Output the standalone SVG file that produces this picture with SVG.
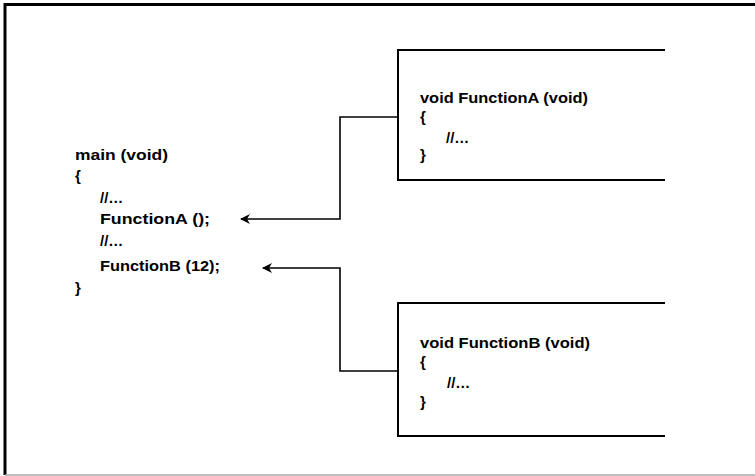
<svg xmlns="http://www.w3.org/2000/svg" width="755" height="476" viewBox="0 0 755 476">
<style>
  .t { font-family: "Liberation Sans", Arial, sans-serif; font-weight: bold; font-size: 15px; fill: #000; }
  .box { fill: none; stroke: #000; stroke-width: 2; }
  .conn { fill: none; stroke: #000; stroke-width: 1.6; }
</style>
<defs>
  <marker id="arr" markerWidth="10" markerHeight="10" refX="9" refY="5" orient="auto" markerUnits="userSpaceOnUse">
    <path d="M10,5 L0,0 L3,5 L0,10 Z" fill="#000"/>
  </marker>
</defs>
<rect width="755" height="476" fill="#fff"/>
<g id="frame">
  <path d="M755,4.5 L5,4.5 L5,475" fill="none" stroke="#000" stroke-width="3"/>
  <line x1="5" y1="475" x2="755" y2="475" stroke="#aaa" stroke-width="1.5"/>
</g>
<g id="main">
  <text class="t" x="75" y="160" textLength="93" lengthAdjust="spacingAndGlyphs">main (void)</text>
  <text class="t" x="75" y="181">{</text>
  <text class="t" x="100" y="203">//…</text>
  <text class="t" x="100" y="224" textLength="110" lengthAdjust="spacingAndGlyphs">FunctionA ();</text>
  <text class="t" x="100" y="246">//…</text>
  <text class="t" x="100" y="271" textLength="120" lengthAdjust="spacingAndGlyphs">FunctionB (12);</text>
  <text class="t" x="75" y="293">}</text>
</g>
<g id="functionA">
  <path class="box" d="M665,50 L398,50 L398,180 L665,180"/>
  <text class="t" x="420" y="103" textLength="168" lengthAdjust="spacingAndGlyphs">void FunctionA (void)</text>
  <text class="t" x="420" y="122">{</text>
  <text class="t" x="446" y="143">//…</text>
  <text class="t" x="420" y="160">}</text>
</g>
<g id="functionB">
  <path class="box" d="M665,303 L398,303 L398,436 L665,436"/>
  <text class="t" x="420" y="348" textLength="170" lengthAdjust="spacingAndGlyphs">void FunctionB (void)</text>
  <text class="t" x="420" y="367">{</text>
  <text class="t" x="447" y="388">//…</text>
  <text class="t" x="420" y="407">}</text>
</g>
<g id="connectors">
  <path class="conn" d="M398,117 L340,117 L340,219 L241,219" marker-end="url(#arr)"/>
  <path class="conn" d="M398,371 L340,371 L340,268 L263,268" marker-end="url(#arr)"/>
</g>
</svg>
